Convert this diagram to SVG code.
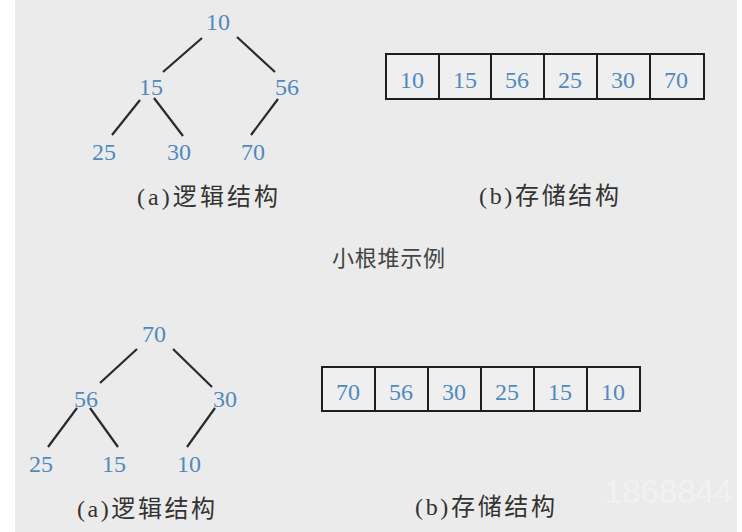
<svg xmlns="http://www.w3.org/2000/svg" width="742" height="532" viewBox="0 0 742 532">
<style>
.num{font-family:"Liberation Serif","Noto Sans CJK SC",serif;font-size:24px;fill:#5089c2;text-anchor:middle}
.cap{font-family:"Liberation Serif","Noto Sans CJK SC",serif;font-size:24px;fill:#333}
.edge{stroke:#2a2a2a;stroke-width:2.2;fill:none}
.cell{fill:#efefef;stroke:#1e1e1e;stroke-width:2}
</style>
<rect x="0" y="0" width="742" height="532" fill="#ffffff"/>
<rect x="15" y="0" width="722" height="532" fill="#ebebeb"/>
<g id="connectors">
<line class="edge" x1="202" y1="38" x2="163" y2="72"/>
<line class="edge" x1="237" y1="37" x2="275" y2="72"/>
<line class="edge" x1="140" y1="100" x2="112" y2="135"/>
<line class="edge" x1="154" y1="98" x2="183" y2="136"/>
<line class="edge" x1="278" y1="99" x2="251" y2="135"/>
<line class="edge" x1="137" y1="349" x2="100" y2="383"/>
<line class="edge" x1="173" y1="349" x2="212" y2="387"/>
<line class="edge" x1="77" y1="408" x2="48" y2="447"/>
<line class="edge" x1="90" y1="408" x2="118" y2="447"/>
<line class="edge" x1="215" y1="408" x2="187" y2="447"/>
</g>
<g id="t1-10"><text class="num" x="218" y="30">10</text></g>
<g id="t1-15"><text class="num" x="151" y="95">15</text></g>
<g id="t1-56"><text class="num" x="287" y="95">56</text></g>
<g id="t1-25"><text class="num" x="104" y="160">25</text></g>
<g id="t1-30"><text class="num" x="179" y="160">30</text></g>
<g id="t1-70"><text class="num" x="253" y="160">70</text></g>
<g id="cap1a"><text class="cap" x="137" y="205" textLength="141" lengthAdjust="spacing">(a)逻辑结构</text></g>
<g id="array1">
<rect class="cell" x="386" y="54" width="53" height="45"/>
<rect class="cell" x="439" y="54" width="52" height="45"/>
<rect class="cell" x="491" y="54" width="53" height="45"/>
<rect class="cell" x="544" y="54" width="53" height="45"/>
<rect class="cell" x="597" y="54" width="53" height="45"/>
<rect class="cell" x="650" y="54" width="54" height="45"/>
<text class="num" x="412" y="88">10</text>
<text class="num" x="465" y="88">15</text>
<text class="num" x="517" y="88">56</text>
<text class="num" x="570" y="88">25</text>
<text class="num" x="623" y="88">30</text>
<text class="num" x="676" y="88">70</text>
</g>
<g id="cap1b"><text class="cap" x="479" y="204" textLength="140" lengthAdjust="spacing">(b)存储结构</text></g>
<g id="title"><text class="cap" x="332" y="266" textLength="113" lengthAdjust="spacing" style="font-size:22px;fill:#444">小根堆示例</text></g>
<g id="t2-70"><text class="num" x="154" y="342">70</text></g>
<g id="t2-56"><text class="num" x="86" y="407">56</text></g>
<g id="t2-30"><text class="num" x="225" y="407">30</text></g>
<g id="t2-25"><text class="num" x="41" y="472">25</text></g>
<g id="t2-15"><text class="num" x="114" y="472">15</text></g>
<g id="t2-10"><text class="num" x="189" y="472">10</text></g>
<g id="cap2a"><text class="cap" x="77" y="517" textLength="138" lengthAdjust="spacing">(a)逻辑结构</text></g>
<g id="array2">
<rect class="cell" x="322" y="367" width="53" height="44"/>
<rect class="cell" x="375" y="367" width="53" height="44"/>
<rect class="cell" x="428" y="367" width="53" height="44"/>
<rect class="cell" x="481" y="367" width="53" height="44"/>
<rect class="cell" x="534" y="367" width="53" height="44"/>
<rect class="cell" x="587" y="367" width="53" height="44"/>
<text class="num" x="348" y="400">70</text>
<text class="num" x="401" y="400">56</text>
<text class="num" x="454" y="400">30</text>
<text class="num" x="507" y="400">25</text>
<text class="num" x="560" y="400">15</text>
<text class="num" x="613" y="400">10</text>
</g>
<g id="cap2b"><text class="cap" x="415" y="515" textLength="140" lengthAdjust="spacing">(b)存储结构</text></g>
<text x="604" y="503" style="font-family:'Liberation Sans',sans-serif;font-size:33px;fill:#ffffff;fill-opacity:0.35">1868844</text>
<rect x="737" y="0" width="5" height="532" fill="#ffffff"/>
</svg>
